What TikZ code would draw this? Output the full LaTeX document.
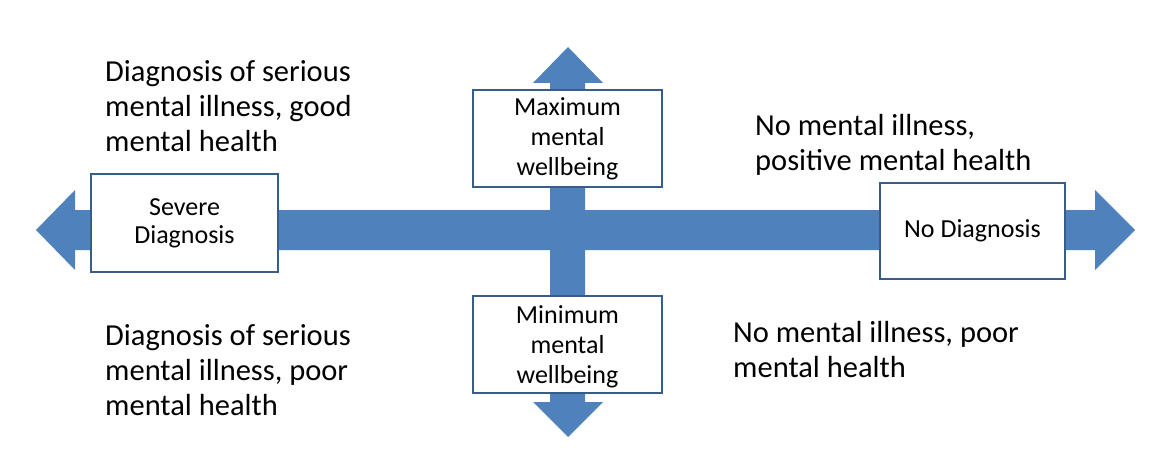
\documentclass[tikz,border=0pt]{standalone}
\usepackage{fontspec}
\setmainfont{Carlito}
\definecolor{arrowblue}{HTML}{4F81BD}
\definecolor{boxblue}{HTML}{385D8A}
\begin{document}
\begin{tikzpicture}[x=1pt, y=-1pt, main node/.style={rectangle,draw=boxblue,line width=2pt,fill=white,inner sep=0pt,align=center,font=\fontsize{26}{30}\selectfont},quad text/.style={anchor=base west,inner sep=0pt,align=left,font=\fontsize{30.5}{35}\selectfont}]
\useasboundingbox (0,0) rectangle (1170,460);
\begin{scope}[fill=arrowblue]
% horizontal axis
\fill (36,230) -- (75,190) -- (75,210) -- (1095,210) -- (1095,190) -- (1135,230)
  -- (1095,270) -- (1095,250) -- (75,250) -- (75,270) -- cycle;
% vertical axis
\fill (568,47) -- (603,83) -- (585,83) -- (585,402) -- (603,402) -- (568,437)
  -- (533,402) -- (550,402) -- (550,83) -- (533,83) -- cycle;
\end{scope}
\begin{scope}
\node[main node,minimum width=187pt,minimum height=98pt,font=\fontsize{26}{28}\selectfont] (severe) at (184.5,223) {Severe\\Diagnosis};
\node[main node,minimum width=189pt,minimum height=97pt] (max) at (567.5,138.5) {Maximum\\mental\\wellbeing};
\node[main node,minimum width=189pt,minimum height=97pt,text depth=0pt] (min) at (567.5,344.5) {Minimum\\mental\\wellbeing};
\node[main node,minimum width=185pt,minimum height=96pt] (nodiag) at (972.5,231) {No Diagnosis};
\end{scope}
% base of each text is its last line
\begin{scope}
\node[quad text] (tl) at (105,151.5) {Diagnosis of serious\\mental illness, good\\mental health};
\node[quad text] (tr) at (755,170) {No mental illness,\\positive mental health};
\node[quad text] (bl) at (105,415) {Diagnosis of serious\\mental illness, poor\\mental health};
\node[quad text] (br) at (733,377) {No mental illness, poor\\mental health};
\end{scope}
\end{tikzpicture}
\end{document}
